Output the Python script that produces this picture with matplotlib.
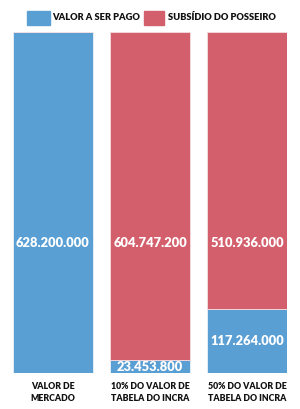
import matplotlib.pyplot as plt

# dados (R$)
categorias = ['VALOR DE\nMERCADO', '10% DO VALOR DE\nTABELA DO INCRA', '50% DO VALOR DE\nTABELA DO INCRA']
valor_pago = [628200000, 23453800, 117264000]
subsidio = [0, 604747200, 510936000]
rotulo_pago = ['628.200.000', '23.453.800', '117.264.000']
rotulo_subsidio = ['', '604.747.200', '510.936.000']

azul = '#5A9FD3'
vermelho = '#D45F6C'

plt.rcParams['font.family'] = ['Lato', 'DejaVu Sans']

fig = plt.figure(figsize=(3.0, 4.09), dpi=100)
ax = fig.add_axes([13/300, 36/409, 274/300, 341/409])

x = range(len(categorias))
w = 80/97
ax.bar(x, valor_pago, width=w, color=azul, edgecolor='#EAF1F8', linewidth=0.6)
ax.bar(x, subsidio, width=w, bottom=valor_pago, color=vermelho, edgecolor='#F4DDE0', linewidth=0.6)

total = max(p + s for p, s in zip(valor_pago, subsidio))
ax.set_xlim(-w/2, 2 + w/2)
ax.set_ylim(0, total)
ax.axis('off')

y_meio = total * 0.381
for i in x:
    if rotulo_subsidio[i]:
        ax.text(i, y_meio, rotulo_subsidio[i], ha='center', va='center',
                color='white', fontsize=9.3, fontweight='heavy')
        ax.text(i, valor_pago[i] / 2, rotulo_pago[i], ha='center', va='center',
                color='white', fontsize=9.3, fontweight='heavy')
    else:
        ax.text(i, y_meio, rotulo_pago[i], ha='center', va='center',
                color='white', fontsize=9.3, fontweight='heavy')
    ax.text(i, -total * 0.027, categorias[i], ha='center', va='top',
            color='#111111', fontsize=6.3, fontweight='heavy', linespacing=1.4)

# legenda
fig.patches.append(plt.Rectangle((27/300, 1 - 25/409), 23/300, 14/409,
                                 transform=fig.transFigure, color=azul))
fig.text(52/300, 1 - 17.5/409, 'VALOR A SER PAGO', fontsize=6.7, fontweight='heavy',
         color='#111111', va='center')
fig.patches.append(plt.Rectangle((144/300, 1 - 25/409), 20/300, 14/409,
                                 transform=fig.transFigure, color=vermelho))
fig.text(168/300, 1 - 17.5/409, 'SUBSÍDIO DO POSSEIRO', fontsize=6.7, fontweight='heavy',
         color='#111111', va='center')

fig.savefig('out.png', dpi=100)
